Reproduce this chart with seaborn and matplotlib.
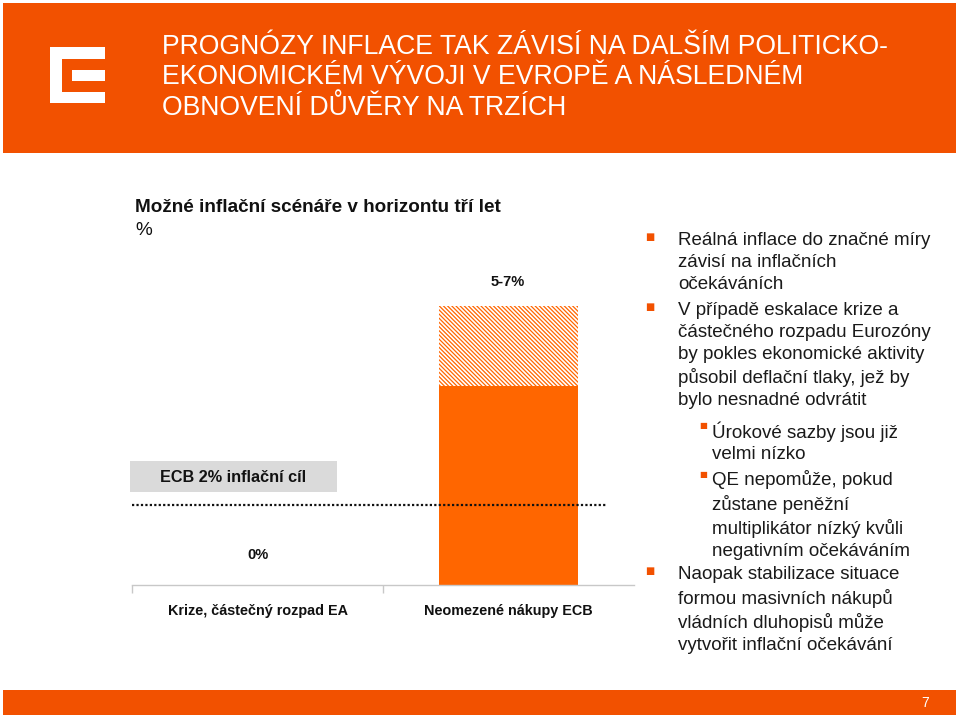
import numpy as np
import pandas as pd
import matplotlib
matplotlib.use("Agg")
import matplotlib.pyplot as plt
from matplotlib.patches import Rectangle
import seaborn as sns

# data
scenare = ["Krize, částečný rozpad EA", "Neomezené nákupy ECB"]
dolni_mez = [0, 5]
horni_mez = [0, 7]
popisky = ["0%", "5-7%"]
cil_ecb = 2

nadpis = ["PROGNÓZY INFLACE TAK ZÁVISÍ NA DALŠÍM POLITICKO-",
          "EKONOMICKÉM VÝVOJI V EVROPĚ A NÁSLEDNÉM",
          "OBNOVENÍ DŮVĚRY NA TRZÍCH"]
odrazky = [
    (0, "Reálná inflace do značné míry\nzávisí na inflačních\nočekáváních"),
    (0, "V případě eskalace krize a\nčástečného rozpadu Eurozóny\nby pokles ekonomické aktivity\npůsobil deflační tlaky, jež by\nbylo nesnadné odvrátit"),
    (1, "Úrokové sazby jsou již\nvelmi nízko"),
    (1, "QE nepomůže, pokud\nzůstane peněžní\nmultiplikátor nízký kvůli\nnegativním očekáváním"),
    (0, "Naopak stabilizace situace\nformou masivních nákupů\nvládních dluhopisů může\nvytvořit inflační očekávání"),
]

df = pd.DataFrame({"scenar": scenare, "dolni": dolni_mez, "horni": horni_mez})

sns.set_style("white")
plt.rcParams["font.family"] = ["Liberation Sans", "DejaVu Sans"]
plt.rcParams["hatch.linewidth"] = 0.9

ORANZ = "#F25100"
BAR = "#FF6600"
W, H = 959, 721

fig = plt.figure(figsize=(9.59, 7.21), dpi=100)

def fx(px):
    return px / W

def fy(py):
    return 1 - py / H

# header
fig.patches.append(Rectangle((fx(3), fy(153)), fx(953), 150 / H, transform=fig.transFigure,
                             facecolor=ORANZ, edgecolor="none", zorder=0))
# logo E
fig.patches.append(Rectangle((fx(50), fy(103)), fx(55), 56 / H, transform=fig.transFigure,
                             facecolor="white", edgecolor="none", zorder=1))
fig.patches.append(Rectangle((fx(62), fy(92)), fx(43), 33 / H, transform=fig.transFigure,
                             facecolor=ORANZ, edgecolor="none", zorder=2))
fig.patches.append(Rectangle((fx(72), fy(81)), fx(33), 11 / H, transform=fig.transFigure,
                             facecolor="white", edgecolor="none", zorder=3))
for i, radek in enumerate(nadpis):
    fig.text(fx(162), fy(47 + i * 30.5), radek, color="white", fontsize=19.2,
             va="center", ha="left")

# footer
fig.patches.append(Rectangle((fx(3), fy(715)), fx(953), 25 / H, transform=fig.transFigure,
                             facecolor=ORANZ, edgecolor="none", zorder=0))
fig.text(fx(925), fy(703), "7", color="white", fontsize=10, va="center", ha="center")

# chart title
fig.text(fx(135), fy(208), "Možné inflační scénáře v horizontu tří let", fontsize=13.6,
         fontweight="bold", va="center", ha="left", color="#111111")
fig.text(fx(135), fy(230), "%", fontsize=13.6, va="center", ha="left", color="#111111")

# chart
ytop = 7.5
px_per = (585 - 306) / 7
ax = fig.add_axes([fx(132), fy(585), fx(502), ytop * px_per / H])
sns.barplot(data=df, x="scenar", y="horni", color="white", edgecolor=BAR, hatch="\\" * 8,
            linewidth=0, width=0.554, saturation=1, ax=ax)
sns.barplot(data=df, x="scenar", y="dolni", color=BAR, linewidth=0, width=0.554,
            saturation=1, ax=ax)
ax.set_ylim(0, ytop)
ax.set_xlim(-0.5, 1.5)
ax.axhline(cil_ecb, xmin=0, xmax=(607 - 132) / 502, color="#111111", linestyle=(0, (1, 1.0)),
           linewidth=1.6, zorder=5)
ax.set_xlabel("")
ax.set_ylabel("")
ax.set_yticks([])
for s in ["top", "right", "left"]:
    ax.spines[s].set_visible(False)
ax.spines["bottom"].set_color("#c8c8c8")
ax.spines["bottom"].set_linewidth(1)
ax.set_xticks([0, 1])
ax.set_xticklabels(scenare, fontsize=10.4, fontweight="bold", color="#111111")
ax.tick_params(axis="x", which="major", length=0, pad=14)
ax.set_xticks([-0.5, 0.5], minor=True)
ax.tick_params(axis="x", which="minor", length=6, color="#c8c8c8", width=1, direction="out", bottom=True)

# value labels
fig.text(fx(258), fy(555), popisky[0], fontsize=10.5, fontweight="bold", ha="center", va="center",
         color="#111111")
fig.text(fx(508), fy(282), popisky[1], fontsize=10.5, fontweight="bold", ha="center", va="center",
         color="#111111")

# ECB box
fig.patches.append(Rectangle((fx(130), fy(492)), fx(207), 31 / H, transform=fig.transFigure,
                             facecolor="#dadada", edgecolor="none", zorder=1))
fig.text(fx(233), fy(477), "ECB 2% inflační cíl", fontsize=11.7, fontweight="bold",
         ha="center", va="center", color="#111111")

# bullets on the right
starty = [240, 310, 429, 478, 574]
for (uroven, text), y0 in zip(odrazky, starty):
    bx = 650 if uroven == 0 else 703
    tx = 678 if uroven == 0 else 712
    fig.text(fx(bx), fy(y0 - 3), "■", fontsize=7 if uroven == 0 else 6, color=ORANZ,
             family="DejaVu Sans", ha="center", va="center")
    fig.text(fx(tx), fy(y0 - 8), text, fontsize=13.5, linespacing=1.37, ha="left", va="top",
             color="#1a1a1a")

fig.savefig("out.png", dpi=100)
